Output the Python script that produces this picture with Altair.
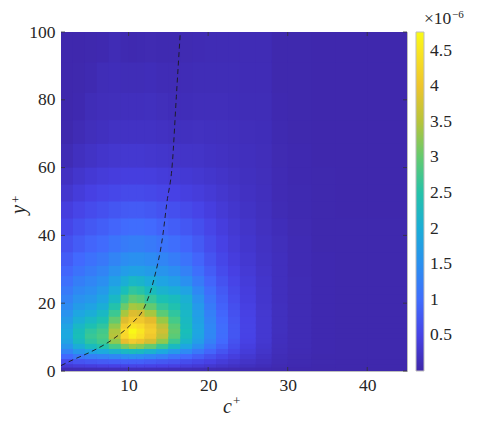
import altair as alt
import pandas as pd

# ---- grid of the filled map (values in units of 1e-6) ----
c_edges = [1.5, 3, 4.5, 6, 7.5, 9, 10, 11, 12, 13.5, 15, 16.5, 18, 19.5, 21, 22.5,
           24, 26, 28, 30, 33, 36, 40, 45]
y_edges = [0, 1, 2, 3.5, 5, 6.5, 8, 9.5, 11, 12.5, 14, 16, 18, 20, 22.5, 25, 28, 31,
           35, 40, 45, 50, 55, 60, 67, 74, 82, 91, 100]

# one list per c+ column, values from the wall (y+=0) upward
col_A = [0.10, 0.35, 0.60, 0.95, 1.30, 1.60, 1.80, 1.90, 1.88, 1.80, 1.68, 1.55, 1.42, 1.30, 1.18, 1.05, 0.92, 0.80, 0.67, 0.54, 0.42, 0.30, 0.20, 0.10, 0.05, 0.04, 0.04, 0.04]
col_B = [0.11, 0.40, 0.70, 1.15, 1.60, 2.00, 2.25, 2.35, 2.32, 2.20, 2.02, 1.85, 1.68, 1.52, 1.38, 1.24, 1.08, 0.95, 0.80, 0.66, 0.52, 0.39, 0.28, 0.18, 0.10, 0.06, 0.05, 0.04]
col_C = [0.12, 0.42, 0.75, 1.25, 1.80, 2.30, 2.58, 2.68, 2.60, 2.42, 2.22, 2.00, 1.80, 1.63, 1.48, 1.34, 1.20, 1.06, 0.90, 0.75, 0.60, 0.46, 0.34, 0.23, 0.15, 0.12, 0.07, 0.05]
col_D = [0.13, 0.45, 0.78, 1.30, 1.92, 2.48, 2.76, 2.85, 2.78, 2.60, 2.42, 2.22, 2.02, 1.83, 1.65, 1.48, 1.32, 1.16, 0.98, 0.82, 0.66, 0.51, 0.38, 0.27, 0.18, 0.14, 0.12, 0.06]
col_E = [0.14, 0.48, 0.82, 1.38, 2.10, 2.80, 3.25, 3.50, 3.45, 3.25, 3.00, 2.72, 2.48, 2.22, 1.98, 1.76, 1.52, 1.32, 1.10, 0.90, 0.72, 0.55, 0.41, 0.30, 0.21, 0.15, 0.13, 0.10]
col_F = [0.15, 0.50, 0.84, 1.45, 2.22, 3.10, 3.85, 4.30, 4.35, 4.10, 3.75, 3.40, 3.05, 2.70, 2.35, 2.02, 1.70, 1.45, 1.20, 0.98, 0.77, 0.58, 0.43, 0.31, 0.22, 0.16, 0.12, 0.07]
col_G = [0.16, 0.52, 0.85, 1.50, 2.30, 3.30, 4.10, 4.60, 4.72, 4.45, 4.05, 3.75, 3.40, 3.00, 2.60, 2.20, 1.78, 1.50, 1.24, 1.00, 0.78, 0.58, 0.43, 0.31, 0.22, 0.16, 0.12, 0.06]
col_H = [0.16, 0.52, 0.85, 1.45, 2.25, 3.20, 3.95, 4.40, 4.50, 4.35, 4.05, 3.70, 3.32, 2.92, 2.52, 2.15, 1.76, 1.50, 1.24, 1.00, 0.78, 0.58, 0.43, 0.31, 0.22, 0.16, 0.12, 0.07]
col_I = [0.15, 0.50, 0.80, 1.35, 2.10, 3.00, 3.70, 4.05, 4.15, 4.05, 3.80, 3.40, 3.00, 2.65, 2.30, 1.98, 1.68, 1.43, 1.18, 0.96, 0.75, 0.56, 0.42, 0.30, 0.22, 0.17, 0.13, 0.08]
col_J = [0.14, 0.48, 0.75, 1.25, 1.90, 2.65, 3.25, 3.55, 3.65, 3.55, 3.30, 2.95, 2.65, 2.40, 2.10, 1.82, 1.56, 1.33, 1.10, 0.88, 0.69, 0.52, 0.39, 0.28, 0.20, 0.15, 0.11, 0.07]
col_K = [0.13, 0.45, 0.70, 1.10, 1.65, 2.25, 2.70, 2.95, 3.00, 2.95, 2.80, 2.60, 2.45, 2.30, 2.00, 1.70, 1.45, 1.23, 1.02, 0.82, 0.64, 0.48, 0.36, 0.26, 0.18, 0.13, 0.10, 0.07]
col_L = [0.12, 0.40, 0.62, 0.95, 1.40, 1.85, 2.15, 2.30, 2.35, 2.30, 2.25, 2.20, 2.15, 2.05, 1.80, 1.50, 1.28, 1.09, 0.91, 0.74, 0.58, 0.44, 0.34, 0.25, 0.18, 0.13, 0.11, 0.08]
col_M = [0.11, 0.36, 0.55, 0.82, 1.15, 1.50, 1.72, 1.82, 1.85, 1.82, 1.78, 1.72, 1.65, 1.55, 1.38, 1.20, 1.04, 0.90, 0.77, 0.64, 0.51, 0.40, 0.31, 0.24, 0.19, 0.14, 0.12, 0.09]
col_N = [0.10, 0.31, 0.47, 0.67, 0.90, 1.13, 1.28, 1.36, 1.38, 1.36, 1.32, 1.26, 1.20, 1.12, 1.02, 0.90, 0.80, 0.70, 0.61, 0.52, 0.43, 0.35, 0.28, 0.22, 0.18, 0.14, 0.12, 0.10]
col_O = [0.09, 0.26, 0.38, 0.53, 0.70, 0.86, 0.96, 1.00, 1.02, 1.00, 0.97, 0.92, 0.87, 0.82, 0.76, 0.68, 0.60, 0.53, 0.47, 0.41, 0.35, 0.30, 0.25, 0.20, 0.17, 0.14, 0.12, 0.10]
col_P = [0.08, 0.22, 0.31, 0.42, 0.53, 0.62, 0.68, 0.72, 0.73, 0.72, 0.70, 0.67, 0.64, 0.60, 0.56, 0.51, 0.46, 0.41, 0.37, 0.33, 0.29, 0.25, 0.21, 0.18, 0.16, 0.13, 0.12, 0.10]
col_Q = [0.07, 0.17, 0.24, 0.31, 0.38, 0.43, 0.47, 0.49, 0.50, 0.50, 0.49, 0.47, 0.45, 0.43, 0.41, 0.38, 0.35, 0.32, 0.29, 0.26, 0.23, 0.20, 0.18, 0.16, 0.14, 0.12, 0.11, 0.10]
col_R = [0.06, 0.13, 0.18, 0.22, 0.26, 0.29, 0.31, 0.32, 0.32, 0.32, 0.32, 0.31, 0.30, 0.29, 0.28, 0.27, 0.25, 0.23, 0.21, 0.19, 0.17, 0.16, 0.15, 0.14, 0.13, 0.12, 0.11, 0.10]
col_S = [0.05, 0.08, 0.10, 0.12, 0.14, 0.15, 0.16, 0.16, 0.17, 0.17, 0.17, 0.17, 0.17, 0.16, 0.16, 0.16, 0.16, 0.16, 0.15, 0.13, 0.10, 0.09, 0.09, 0.08, 0.07, 0.06, 0.05, 0.05]
col_T = [0.04, 0.06, 0.07, 0.08, 0.09, 0.10, 0.10, 0.10, 0.10, 0.10, 0.10, 0.10, 0.10, 0.10, 0.10, 0.10, 0.09, 0.09, 0.09, 0.08, 0.07, 0.07, 0.06, 0.06, 0.05, 0.05, 0.05, 0.05]
col_U = [0.03, 0.04, 0.05, 0.05, 0.06, 0.06, 0.06, 0.06, 0.06, 0.06, 0.06, 0.06, 0.06, 0.06, 0.06, 0.06, 0.06, 0.06, 0.05, 0.05, 0.05, 0.05, 0.05, 0.04, 0.04, 0.04, 0.04, 0.04]
col_V = [0.03, 0.04, 0.04, 0.05, 0.05, 0.05, 0.05, 0.05, 0.05, 0.05, 0.05, 0.05, 0.05, 0.05, 0.05, 0.05, 0.05, 0.05, 0.05, 0.05, 0.04, 0.04, 0.04, 0.04, 0.04, 0.04, 0.04, 0.04]
col_W = [0.03, 0.04, 0.04, 0.05, 0.05, 0.05, 0.05, 0.05, 0.05, 0.05, 0.05, 0.05, 0.05, 0.05, 0.05, 0.05, 0.05, 0.05, 0.05, 0.05, 0.04, 0.04, 0.04, 0.04, 0.04, 0.04, 0.04, 0.04]
columns = [col_A, col_B, col_C, col_D, col_E, col_F, col_G, col_H, col_I, col_J, col_K,
           col_L, col_M, col_N, col_O, col_P, col_Q, col_R, col_S, col_T, col_U, col_V, col_W]

# dashed curve
line_c = [1.5, 3.0, 5.2, 8.1, 10.6, 11.9, 13.2, 14.3, 14.8, 15.5, 16.0, 16.5]
line_y = [1.6, 3.3, 5.6, 9.5, 14.5, 18.4, 27.2, 40.0, 49.5, 61.3, 80.9, 100.0]

# axis ticks / colorbar ticks / texts
x_ticks = [10, 20, 30, 40]
y_ticks = [0, 20, 40, 60, 80, 100]
cbar_ticks = [0.5, 1, 1.5, 2, 2.5, 3, 3.5, 4, 4.5]
cbar_max = 4.76
cbar_exponent = ["×10", "−6"]
x_title = ["c", "+"]
y_title = ["y", "+"]

parula = ["#3e26a8", "#4741e5", "#4269fe", "#2d8cf3", "#1ca9df", "#19bfb6",
          "#4acb84", "#9dc943", "#e6bb2d", "#f9d52d", "#f9fb15"]

# rendering only: each cell is drawn slightly past its far edges so that
# neighbouring cells leave no anti-aliasing seams (cells drawn later cover it)
seam_c, seam_y = 0.25, 0.6

rows = []
for j, col in enumerate(columns):
    assert len(col) == len(y_edges) - 1
    for i, z in enumerate(col):
        rows.append(dict(c0=c_edges[j], c1=c_edges[j + 1] + seam_c,
                         y0=y_edges[i], y1=y_edges[i + 1] + seam_y, z=z))
grid = pd.DataFrame(rows)
line_df = pd.DataFrame({"c": line_c, "y": line_y, "i": list(range(len(line_c)))})
xt_df = pd.DataFrame({"t": x_ticks})
yt_df = pd.DataFrame({"t": y_ticks})

FONT = "Liberation Serif"
INK = "#262626"
LS = 17.5
W, H = 346, 339

xscale = alt.Scale(domain=[1.5, 45], nice=False, zero=False)
yscale = alt.Scale(domain=[0, 100], nice=False, zero=False)
xaxis = alt.Axis(values=x_ticks, format="d", labelPadding=5, labelFlush=False, title=None,
                 labelFont=FONT, labelFontSize=LS, labelColor=INK,
                 grid=False, domain=False, ticks=False)
yaxis = alt.Axis(values=y_ticks, format="d", labelPadding=6, title=None,
                 labelFont=FONT, labelFontSize=LS, labelColor=INK,
                 grid=False, domain=False, ticks=False)
cscale = alt.Scale(domain=[0, cbar_max], range=parula, interpolate="rgb")

heat = alt.Chart(grid).mark_rect(clip=True).encode(
    x=alt.X("c0:Q", scale=xscale, axis=xaxis),
    x2="c1:Q",
    y=alt.Y("y0:Q", scale=yscale, axis=yaxis),
    y2="y1:Q",
    color=alt.Color("z:Q", scale=cscale, legend=alt.Legend(
        type="gradient", orient="none", legendX=W + 9, legendY=0, direction="vertical",
        gradientLength=H, gradientThickness=8, values=cbar_ticks, format=".2~g",
        labelFont=FONT, labelFontSize=LS, labelColor=INK, labelOffset=6,
        title=None, gradientStrokeColor="#bdbdbd", gradientStrokeWidth=1)),
)

curve = alt.Chart(line_df).mark_line(
    strokeDash=[5, 3.5], color="#1a1a1a", strokeWidth=0.9, interpolate="monotone", clip=True
).encode(
    x=alt.X("c:Q", scale=xscale, axis=xaxis),
    y=alt.Y("y:Q", scale=yscale, axis=yaxis),
    order="i:Q",
)

tick_color = "#333333"
xt_bottom = alt.Chart(xt_df).mark_rule(color=tick_color, strokeWidth=0.8).encode(
    x=alt.X("t:Q", scale=xscale, axis=xaxis), y=alt.value(H), y2=alt.value(H - 4))
xt_top = alt.Chart(xt_df).mark_rule(color=tick_color, strokeWidth=0.8).encode(
    x=alt.X("t:Q", scale=xscale, axis=xaxis), y=alt.value(0), y2=alt.value(4))
yt_left = alt.Chart(yt_df).mark_rule(color=tick_color, strokeWidth=0.8).encode(
    y=alt.Y("t:Q", scale=yscale, axis=yaxis), x=alt.value(0), x2=alt.value(4))
yt_right = alt.Chart(yt_df).mark_rule(color=tick_color, strokeWidth=0.8).encode(
    y=alt.Y("t:Q", scale=yscale, axis=yaxis), x=alt.value(W), x2=alt.value(W - 4))


def label(text, x, y, size, italic=False, angle=0):
    return alt.Chart(pd.DataFrame({"t": [text]})).mark_text(
        align="left", baseline="alphabetic", font=FONT, fontSize=size, color=INK,
        fontStyle="italic" if italic else "normal", angle=angle
    ).encode(text="t:N", x=alt.value(x), y=alt.value(y))


texts = [
    label(cbar_exponent[0], W + 17, -8, LS),
    label(cbar_exponent[1], W + 45, -14, 11),
    label(x_title[0], 162, 381, 20, italic=True),
    label(x_title[1], 172, 373, 13),
    label(y_title[0], -36, 182, 20, italic=True, angle=270),
    label(y_title[1], -41, 171, 13, angle=270),
]

chart = alt.layer(heat, curve, xt_bottom, xt_top, yt_left, yt_right, *texts).properties(
    width=W, height=H,
    autosize=alt.AutoSizeParams(type="none"),
    padding={"left": 53, "top": 24, "right": 64, "bottom": 46},
).configure_view(
    stroke="#bdbdbd", strokeWidth=1, fill="#3d2ba6"
)

chart.save("out.html", embed_options={"renderer": "svg", "actions": False})
